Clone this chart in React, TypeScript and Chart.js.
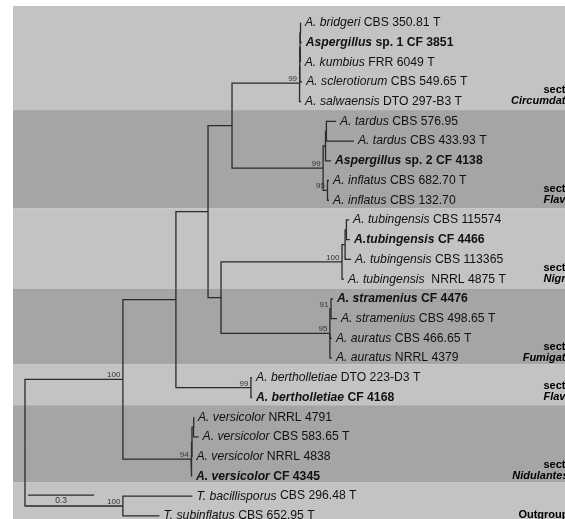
import { useEffect, useRef } from "react";
import { Chart, registerables } from "chart.js";
Chart.register(...registerables);

// ---- tips (top to bottom) ----
const tipTaxon = [
  "A. bridgeri", "Aspergillus", "A. kumbius", "A. sclerotiorum", "A. salwaensis",
  "A. tardus", "A. tardus", "Aspergillus", "A. inflatus", "A. inflatus",
  "A. tubingensis", "A.tubingensis", "A. tubingensis", "A. tubingensis",
  "A. stramenius", "A. stramenius", "A. auratus", "A. auratus",
  "A. bertholletiae", "A. bertholletiae",
  "A. versicolor", "A. versicolor", "A. versicolor", "A. versicolor",
  "T. bacillisporus", "T. subinflatus",
];
const tipStrain = [
  " CBS 350.81 T", " sp. 1 CF 3851", " FRR 6049 T", " CBS 549.65 T", " DTO 297-B3 T",
  " CBS 576.95", " CBS 433.93 T", " sp. 2 CF 4138", " CBS 682.70 T", " CBS 132.70",
  " CBS 115574", " CF 4466", " CBS 113365", "  NRRL 4875 T",
  " CF 4476", " CBS 498.65 T", " CBS 466.65 T", " NRRL 4379",
  " DTO 223-D3 T", " CF 4168",
  " NRRL 4791", " CBS 583.65 T", " NRRL 4838", " CF 4345",
  " CBS 296.48 T", " CBS 652.95 T",
];
// isolates of this study (printed in bold)
const tipStudyIsolate = [
  false, true, false, false, false,
  false, false, true, false, false,
  false, true, false, false,
  true, false, false, false,
  false, true,
  false, false, false, true,
  false, false,
];
// cumulative distance from root (substitutions/site)
const tipDepth = [
  1.254, 1.258, 1.253, 1.26, 1.255,
  1.414, 1.495, 1.391, 1.382, 1.382,
  1.473, 1.477, 1.482, 1.45,
  1.4, 1.418, 1.395, 1.395,
  1.032, 1.032,
  0.768, 0.789, 0.761, 0.759,
  0.761, 0.611,
];
const tipParent = [
  14, 14, 13, 12, 11,
  17, 17, 16, 18, 18,
  21, 21, 20, 19,
  23, 23, 22, 22,
  8, 8,
  6, 6, 5, 4,
  2, 2,
];

// ---- internal nodes ----
const cladeDepth = [
  0, 0.445, 0.445, 0.686, 0.755, 0.759, 0.766, 0.832, 1.027, 0.941, 0.891,
  1.248, 1.249, 1.25, 1.251, 1.355, 1.366, 1.37, 1.375, 1.441, 1.455, 1.461,
  1.386, 1.391,
];
const cladeParent = [
  -1, 0, 0, 1, 1, 4, 5, 3, 3, 7, 7,
  9, 11, 12, 13, 9, 15, 16, 15, 10, 19, 20,
  10, 22,
];
const cladeSupport = [
  "", "100", "100", "", "94", "", "", "", "99", "", "",
  "99", "", "", "", "99", "", "", "95", "100", "", "",
  "95", "91",
];

// ---- sections (bands, in tip-row units) ----
const sectionEdges = [-0.85, 4.43, 9.4, 13.5, 17.33, 19.39, 23.29, 25.3];
const sectionRank = ["sect.", "sect.", "sect.", "sect.", "sect.", "sect.", ""];
const sectionName = ["Circumdati", "Flavi", "Nigri", "Fumigati", "Flavi", "Nidulantes", "Outgroup"];

const scaleBarLength = 0.3;
const scaleBarLabel = "0.3";

const FONT = '"Liberation Sans", Arial, sans-serif';

export default function App() {
  const ref = useRef<HTMLCanvasElement>(null);

  useEffect(() => {
    document.body.style.margin = "0";
    const canvas = ref.current!;

    // compute node rows
    const nC = cladeDepth.length;
    const cladeY: number[] = new Array(nC).fill(0);
    for (let c = nC - 1; c >= 0; c--) {
      const ys: number[] = [];
      tipParent.forEach((p, i) => { if (p === c) ys.push(i); });
      cladeParent.forEach((p, j) => { if (p === c) ys.push(cladeY[j]); });
      cladeY[c] = (Math.min(...ys) + Math.max(...ys)) / 2;
    }

    const lineColor = "#2a2a2a";
    const datasets: any[] = [];
    const elbow = (px: number, py: number, cx: number, cy: number) => ({
      data: [{ x: px, y: py }, { x: px, y: cy }, { x: cx, y: cy }],
      showLine: true,
      borderColor: lineColor,
      borderWidth: 1.3,
      pointRadius: 0,
      tension: 0,
      fill: false,
      borderJoinStyle: "miter",
    });
    for (let c = 1; c < nC; c++) {
      const p = cladeParent[c];
      datasets.push(elbow(cladeDepth[p], cladeY[p], cladeDepth[c], cladeY[c]));
    }
    tipDepth.forEach((d, i) => {
      const p = tipParent[i];
      datasets.push(elbow(cladeDepth[p], cladeY[p], d, i));
    });

    const bandPlugin = {
      id: "bands",
      beforeDatasetsDraw(chart: any) {
        const { ctx, chartArea, scales } = chart;
        ctx.save();
        ctx.beginPath();
        ctx.rect(chartArea.left, chartArea.top, chartArea.right - chartArea.left, chartArea.bottom - chartArea.top);
        ctx.clip();
        for (let b = 0; b < sectionName.length; b++) {
          const y0 = scales.y.getPixelForValue(sectionEdges[b]);
          const y1 = scales.y.getPixelForValue(sectionEdges[b + 1]);
          ctx.fillStyle = b % 2 === 0 ? "#c3c3c3" : "#a5a5a5";
          ctx.fillRect(chartArea.left, Math.min(y0, y1), chartArea.right - chartArea.left, Math.abs(y1 - y0));
        }
        ctx.restore();
      },
    };

    const labelPlugin = {
      id: "labels",
      afterDatasetsDraw(chart: any) {
        const { ctx, scales } = chart;
        const xs = scales.x, ys = scales.y;
        ctx.save();
        // tip labels
        const size = 12.2;
        ctx.textBaseline = "middle";
        ctx.textAlign = "left";
        ctx.fillStyle = "#111";
        tipTaxon.forEach((tx, i) => {
          const bold = tipStudyIsolate[i] ? "bold " : "";
          let x = xs.getPixelForValue(tipDepth[i]) + 4;
          const y = ys.getPixelForValue(i);
          ctx.font = `italic ${bold}${size}px ${FONT}`;
          ctx.fillText(tx, x, y);
          x += ctx.measureText(tx).width;
          ctx.font = `${bold}${size}px ${FONT}`;
          ctx.fillText(tipStrain[i], x, y);
        });
        // support values
        ctx.font = `8px ${FONT}`;
        ctx.fillStyle = "#333";
        ctx.textAlign = "right";
        ctx.textBaseline = "alphabetic";
        cladeSupport.forEach((s, c) => {
          if (!s) return;
          const x = xs.getPixelForValue(cladeDepth[c]) - 2.5;
          const y = ys.getPixelForValue(cladeY[c]) - 2;
          ctx.fillText(s, x, y);
        });
        // section labels
        ctx.fillStyle = "#000";
        ctx.textAlign = "right";
        ctx.textBaseline = "middle";
        const rx = 568.5;
        sectionName.forEach((nm, b) => {
          const last = Math.floor(sectionEdges[b + 1]);
          const y = ys.getPixelForValue(last) - 0.5;
          if (sectionRank[b]) {
            ctx.font = `bold 11px ${FONT}`;
            ctx.fillText(sectionRank[b], rx, y - 11);
            ctx.font = `italic bold 11px ${FONT}`;
            ctx.fillText(nm, rx, y);
          } else {
            ctx.font = `bold 11px ${FONT}`;
            ctx.fillText(nm, rx, y);
          }
        });
        // scale bar
        const sx0 = xs.getPixelForValue(0.014);
        const sx1 = xs.getPixelForValue(0.014 + scaleBarLength);
        const sy = ys.getPixelForValue(23.95);
        ctx.strokeStyle = lineColor;
        ctx.lineWidth = 1.3;
        ctx.beginPath();
        ctx.moveTo(sx0, sy);
        ctx.lineTo(sx1, sy);
        ctx.stroke();
        ctx.font = `8.5px ${FONT}`;
        ctx.fillStyle = "#333";
        ctx.textAlign = "center";
        ctx.textBaseline = "middle";
        ctx.fillText(scaleBarLabel, (sx0 + sx1) / 2, sy + 6);
        ctx.restore();
      },
    };

    const chart = new Chart(canvas, {
      type: "scatter",
      data: { datasets },
      options: {
        animation: false,
        responsive: false,
        layout: { padding: { left: 13, top: 6, right: 0, bottom: 0 } },
        scales: {
          x: { type: "linear", min: (13 - 25) / 220, max: (565 - 25) / 220, display: false },
          y: { type: "linear", min: -0.847, max: 25.16, reverse: true, display: false },
        },
        plugins: { legend: { display: false }, tooltip: { enabled: false } },
        elements: { point: { radius: 0 } },
      },
      plugins: [bandPlugin, labelPlugin],
    } as any);
    return () => chart.destroy();
  }, []);

  return (
    <div style={{ position: "absolute", left: 0, top: 0, width: 565, height: 519 }}>
      <canvas ref={ref} width={565} height={519} style={{ display: "block" }} />
    </div>
  );
}
